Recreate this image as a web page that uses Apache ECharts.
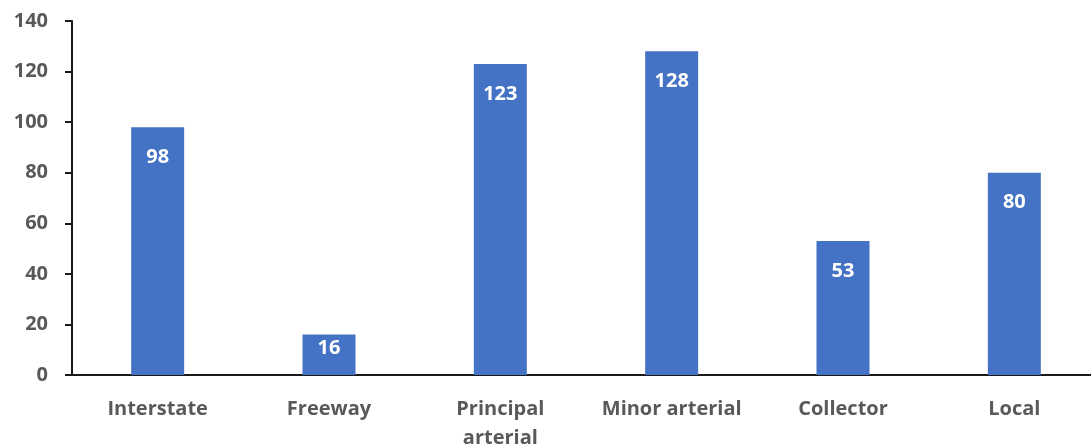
<!DOCTYPE html>
<html><head><meta charset="utf-8">
<script src="https://cdn.jsdelivr.net/npm/echarts@6/dist/echarts.min.js"></script>
<style>html,body{margin:0;padding:0;background:#fff}#c{width:1091px;height:448px}</style>
</head><body><div id="c"></div>
<script>
const categories = ['Interstate', 'Freeway', 'Principal\narterial', 'Minor arterial', 'Collector', 'Local'];
const values = [98, 16, 123, 128, 53, 80];
const yTicks = [0, 20, 40, 60, 80, 100, 120, 140];

const chart = echarts.init(document.getElementById('c'));
const font = '"Open Sans", sans-serif';
chart.setOption({
  animation: false,
  grid: { left: 72, right: -9, top: 21, bottom: 73, outerBoundsMode: 'none', containLabel: false },
  xAxis: {
    type: 'category', data: categories,
    axisLine: { lineStyle: { color: '#1a1a1a', width: 2 } },
    axisTick: { show: false },
    axisLabel: { interval: 0, hideOverlap: false, color: '#595959', fontFamily: font, fontWeight: 'bold', fontSize: 20, margin: 20, lineHeight: 29 }
  },
  yAxis: {
    type: 'value', min: yTicks[0], max: yTicks[yTicks.length - 1], interval: 20,
    axisLine: { show: true, lineStyle: { color: '#1a1a1a', width: 2 } },
    axisTick: { show: true, length: 7, lineStyle: { color: '#1a1a1a', width: 2 } },
    splitLine: { show: false },
    axisLabel: { color: '#595959', fontFamily: font, fontWeight: 'bold', fontSize: 20, margin: 24 }
  },
  series: [{
    type: 'bar', barWidth: 53,
    itemStyle: { color: '#4472C4' },
    data: values.map(v => ({ value: v, label: { distance: v < 30 ? 4 : 20 } })),
    label: { show: true, position: 'insideTop', color: '#fff', fontFamily: font, fontWeight: 'bold', fontSize: 20 }
  }]
});
</script></body></html>
